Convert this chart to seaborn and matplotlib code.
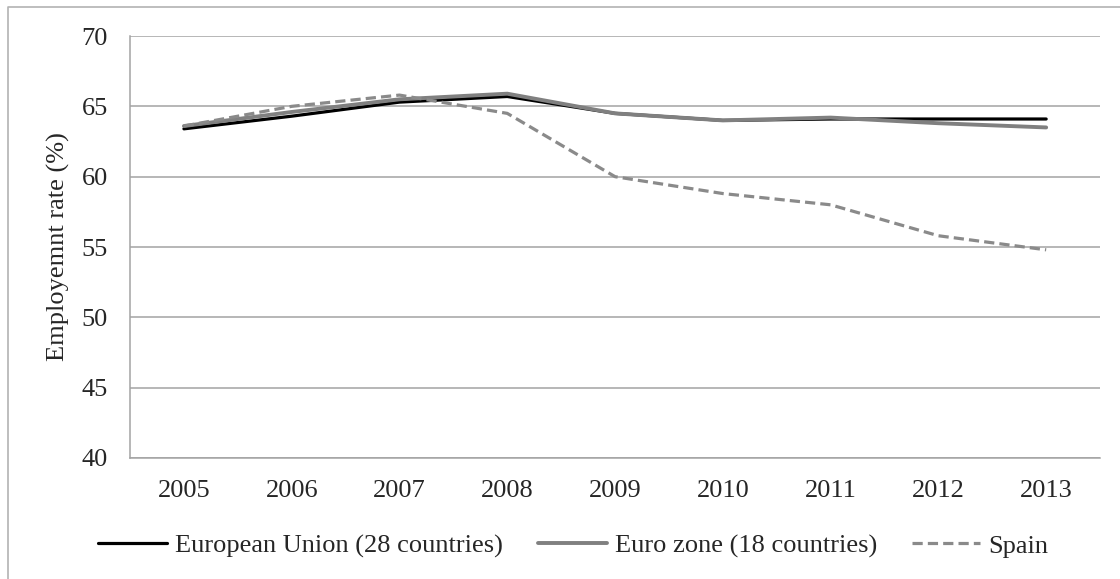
import pandas as pd
import matplotlib
matplotlib.use("Agg")
import matplotlib.pyplot as plt
from matplotlib.lines import Line2D
import seaborn as sns

# 데이터
years = [2005, 2006, 2007, 2008, 2009, 2010, 2011, 2012, 2013]
eu28 = [63.4, 64.3, 65.3, 65.7, 64.5, 64.0, 64.1, 64.1, 64.1]
euro18 = [63.6, 64.6, 65.5, 65.9, 64.5, 64.0, 64.2, 63.8, 63.5]
spain = [63.6, 65.0, 65.8, 64.5, 60.0, 58.8, 58.0, 55.8, 54.8]

series_names = ["European Union (28 countries)", "Euro zone (18 countries)", "Spain"]
y_ticks = [40, 45, 50, 55, 60, 65, 70]

df = pd.DataFrame({
    "year": years * 3,
    "rate": eu28 + euro18 + spain,
    "series": [series_names[0]] * 9 + [series_names[1]] * 9 + [series_names[2]] * 9,
})

sns.set_style("white")
plt.rcParams["font.family"] = ["Liberation Serif", "DejaVu Serif"]
FS = 19

fig = plt.figure(figsize=(11.2, 5.79), dpi=100)
ax = fig.add_axes([0.1161, 0.2090, 0.8661, 0.7288])

palette = {series_names[0]: "#000000", series_names[1]: "#808080", series_names[2]: "#8a8a8a"}
dashes = {series_names[0]: "", series_names[1]: "", series_names[2]: (3.2, 1.6)}
sns.lineplot(data=df, x="year", y="rate", hue="series", style="series",
             palette=palette, dashes=dashes, linewidth=2.3, ax=ax, legend=False)
ax.lines[1].set_linewidth(2.8)

ax.set_xlim(2004.5, 2013.5)
ax.set_ylim(40, 70)
ax.set_yticks(y_ticks)
ax.set_xticks(years)
ax.set_xticklabels([str(y) for y in years])
ax.tick_params(axis="both", labelsize=FS, length=0)
ax.tick_params(axis="x", pad=16)
ax.tick_params(axis="y", pad=16)
ax.set_xlabel("")
ax.set_ylabel("Employemnt rate (%)", fontsize=FS, labelpad=8)

ax.yaxis.grid(True, color="#a3a3a3", linewidth=1.1)
ax.set_axisbelow(True)
for s in ["top", "right"]:
    ax.spines[s].set_visible(False)
for s in ["left", "bottom"]:
    ax.spines[s].set_color("#a3a3a3")
    ax.spines[s].set_linewidth(1.1)

# 범례
handles = [Line2D([], [], color=l.get_color(), linewidth=l.get_linewidth(),
                  linestyle=l.get_linestyle()) for l in ax.lines[:3]]
handles[2].set_dashes((3.2, 1.6))
fig.legend(handles, series_names, loc="center", bbox_to_anchor=(0.512, 0.057), ncol=3,
           frameon=False, fontsize=FS, handlelength=2.6, handletextpad=0.3,
           columnspacing=1.33, borderpad=0)

# 바깥 테두리 (왼쪽, 위쪽)
fig.add_artist(Line2D([8 / 1120, 8 / 1120, 1.0], [0.0, 1 - 7 / 579, 1 - 7 / 579],
                      transform=fig.transFigure, color="#b3b3b3", linewidth=1.2))

fig.savefig("out.png", dpi=100)
